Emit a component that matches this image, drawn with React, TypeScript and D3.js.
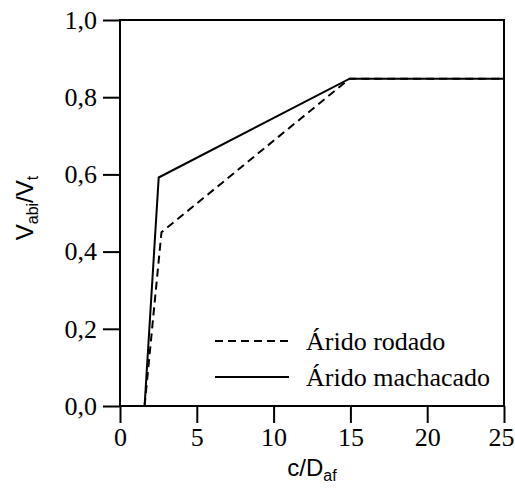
import React, { useRef, useEffect } from "react";
import * as d3 from "d3";

// values
const rodadoX = [1.6, 2.7, 14.95, 25];
const rodadoY = [0, 0.45, 0.848, 0.848];
const machacadoX = [1.6, 2.52, 14.95, 25];
const machacadoY = [0, 0.592, 0.848, 0.848];
const xTicks = [0, 5, 10, 15, 20, 25];
const yTicks = [0, 0.2, 0.4, 0.6, 0.8, 1.0];
const legendLabels = ["Árido rodado", "Árido machacado"];

const width = 515;
const height = 488;

export default function App() {
  const svgRef = useRef<SVGSVGElement>(null);

  useEffect(() => {
    const svg = d3.select(svgRef.current);
    svg.selectAll("*").remove();

    const left = 120, right = 504, top = 20, bottom = 406;
    const x = d3.scaleLinear().domain([0, 25]).range([left, right]);
    const y = d3.scaleLinear().domain([0, 1]).range([bottom, top]);
    const serif = "Liberation Serif, serif";
    const sans = "Liberation Sans, Arial, sans-serif";

    // frame
    svg.append("rect")
      .attr("x", left).attr("y", top)
      .attr("width", right - left).attr("height", bottom - top)
      .attr("fill", "none").attr("stroke", "#000").attr("stroke-width", 2);

    // x axis
    const xAxis = svg.append("g")
      .attr("transform", `translate(0,${bottom})`)
      .call(d3.axisBottom(x).tickValues(xTicks).tickSize(17).tickPadding(5).tickFormat(d3.format("d")));
    xAxis.select(".domain").remove();
    xAxis.attr("font-family", null).attr("font-size", null);
    xAxis.selectAll(".tick line").attr("stroke-width", 2);
    xAxis.selectAll(".tick text")
      .style("font-family", serif).style("font-size", "26px").attr("fill", "#000")
      .attr("dx", (d) => (d === 25 ? -3 : 0));

    // y axis
    const yAxis = svg.append("g")
      .attr("transform", `translate(${left},0)`)
      .call(d3.axisLeft(y).tickValues(yTicks).tickSize(17).tickPadding(6)
        .tickFormat((d) => d3.format(".1f")(d as number).replace(".", ",")));
    yAxis.select(".domain").remove();
    yAxis.attr("font-family", null).attr("font-size", null);
    yAxis.selectAll(".tick line").attr("stroke-width", 2);
    yAxis.selectAll(".tick text")
      .style("font-family", serif).style("font-size", "26px").attr("fill", "#000");

    // axis titles
    const xt = svg.append("text")
      .attr("x", (left + right) / 2).attr("y", 476)
      .attr("text-anchor", "middle")
      .style("font-family", sans).style("font-size", "24px").attr("fill", "#000");
    xt.append("tspan").text("c/D");
    xt.append("tspan").style("font-size", "16px").attr("dy", 5).text("af");

    const yt = svg.append("text")
      .attr("transform", `translate(33,${(top + bottom) / 2 - 5}) rotate(-90)`)
      .attr("text-anchor", "middle")
      .style("font-family", sans).style("font-size", "24px").attr("fill", "#000");
    yt.append("tspan").text("V");
    yt.append("tspan").style("font-size", "16px").attr("dy", 5).text("abi");
    yt.append("tspan").attr("dy", -5).text("/V");
    yt.append("tspan").style("font-size", "16px").attr("dy", 5).text("t");

    const line = d3.line<[number, number]>()
      .x((d) => x(d[0]))
      .y((d) => y(d[1]));

    const rodado = rodadoX.map((v, i) => [v, rodadoY[i]] as [number, number]);
    const machacado = machacadoX.map((v, i) => [v, machacadoY[i]] as [number, number]);

    svg.append("path").datum(rodado).attr("d", line)
      .attr("fill", "none").attr("stroke", "#000").attr("stroke-width", 2)
      .attr("stroke-dasharray", "8,5");
    svg.append("path").datum(machacado).attr("d", line)
      .attr("fill", "none").attr("stroke", "#000").attr("stroke-width", 2);

    // legend
    const legend = svg.append("g");
    const rows = [341, 377];
    legendLabels.forEach((label, i) => {
      legend.append("line")
        .attr("x1", 215).attr("x2", 289)
        .attr("y1", rows[i]).attr("y2", rows[i])
        .attr("stroke", "#000").attr("stroke-width", 2)
        .attr("stroke-dasharray", i === 0 ? "8,5" : null);
      legend.append("text")
        .attr("x", 306).attr("y", rows[i] + 9)
        .style("font-family", serif).style("font-size", "26px").attr("fill", "#000")
        .text(label);
    });
  }, []);

  return (
    <svg
      ref={svgRef}
      width={width}
      height={height}
      style={{ position: "absolute", left: 0, top: 0, background: "#fff" }}
    />
  );
}
